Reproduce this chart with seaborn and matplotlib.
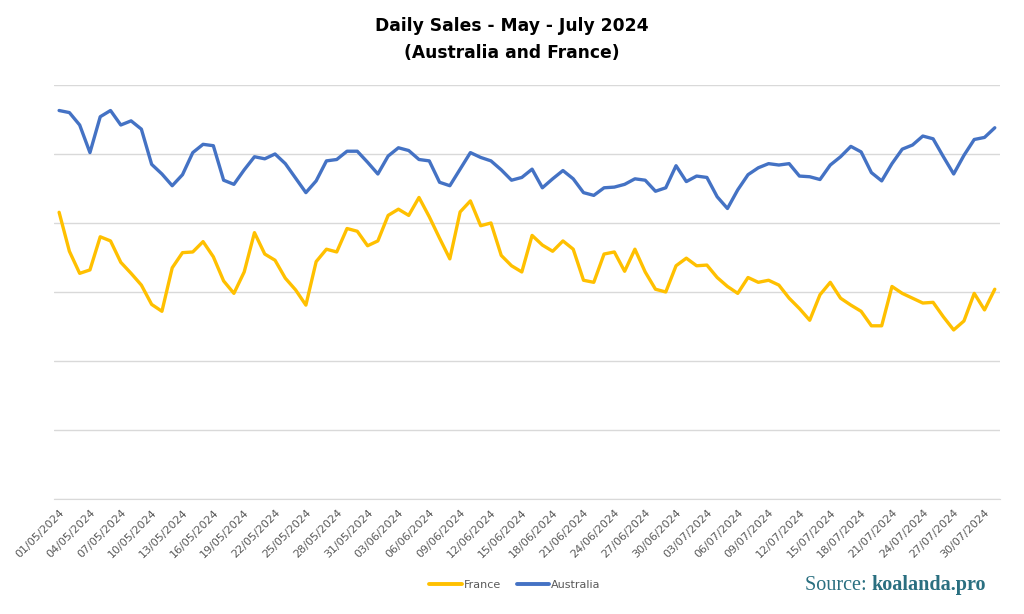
import pandas as pd
import matplotlib.pyplot as plt
import seaborn as sns

# Daily sales, 01/05/2024 - 31/07/2024
dates = pd.date_range('2024-05-01', '2024-07-31', freq='D')

australia = [
    5630, 5600, 5420, 5020, 5540, 5630, 5420, 5480, 5360, 4850,
    4710, 4540, 4700, 5020, 5140, 5120, 4620, 4560, 4770, 4960,
    4930, 5000, 4860, 4650, 4440, 4610, 4900, 4920, 5040, 5040,
    4880, 4710, 4970, 5090, 5050, 4920, 4900, 4590, 4540, 4780,
    5020, 4950, 4900, 4770, 4620, 4660, 4780, 4510, 4640, 4760,
    4640, 4440, 4400, 4510, 4520, 4560, 4640, 4620, 4460, 4510,
    4830, 4600, 4680, 4660, 4380, 4210, 4480, 4700, 4800, 4860,
    4840, 4860, 4680, 4670, 4630, 4840, 4960, 5110, 5030, 4730,
    4610, 4860, 5070, 5130, 5260, 5220, 4960, 4710, 4980, 5210,
    5240, 5380,
]

france = [
    4155, 3590, 3270, 3320, 3800, 3740, 3430, 3270, 3100, 2820,
    2720, 3350, 3570, 3580, 3730, 3510, 3160, 2980, 3290, 3860,
    3550, 3460, 3200, 3030, 2810, 3440, 3620, 3580, 3920, 3880,
    3670, 3740, 4110, 4200, 4110, 4370, 4090, 3780, 3480, 4160,
    4320, 3960, 4000, 3530, 3380, 3290, 3820, 3680, 3590, 3740,
    3620, 3170, 3140, 3550, 3580, 3300, 3620, 3290, 3040, 3000,
    3380, 3490, 3380, 3390, 3210, 3080, 2980, 3210, 3140, 3170,
    3100, 2910, 2760, 2590, 2960, 3140, 2910, 2810, 2720, 2510,
    2510, 3080, 2980, 2910, 2840, 2850, 2640, 2450, 2580, 2980,
    2740, 3040,
]

colors = {'France': '#FFC000', 'Australia': '#4472C4'}

df = pd.DataFrame({'day': range(len(dates)), 'France': france, 'Australia': australia})
long_df = df.melt(id_vars='day', var_name='Country', value_name='Sales')

sns.set_style('white')
fig = plt.figure(figsize=(10.24, 6.14), dpi=100)
ax = fig.add_axes([0.0527, 0.1873, 0.9238, 0.6743])

sns.lineplot(data=long_df, x='day', y='Sales', hue='Country', palette=colors,
             hue_order=['France', 'Australia'], linewidth=2.4, ax=ax, legend=False)

# category axis: labels on every third day, tick marks between categories
ax.set_xlim(-0.5, len(dates) - 0.5)
ax.set_ylim(0, 6000)
label_pos = list(range(0, len(dates), 3))
ax.set_xticks(label_pos)
ax.set_xticklabels([dates[i].strftime('%d/%m/%Y') for i in label_pos],
                   rotation=45, ha='right', rotation_mode='anchor',
                   fontsize=8, color='#595959')
ax.set_xticks([p - 0.5 for p in label_pos], minor=True)
ax.tick_params(axis='x', which='major', length=0, pad=6)
ax.tick_params(axis='x', which='minor', length=4, color='#D9D9D9', width=1)
ax.set_yticks(range(0, 6001, 1000))
ax.set_yticklabels([])
ax.tick_params(axis='y', length=0)
ax.yaxis.grid(True, color='#D9D9D9', linewidth=1)
ax.set_axisbelow(True)
ax.set_xlabel('')
ax.set_ylabel('')
for side in ['top', 'right', 'left']:
    ax.spines[side].set_visible(False)
ax.spines['bottom'].set_color('#D9D9D9')

fig.text(0.5, 0.958, 'Daily Sales - May - July 2024', ha='center', va='center',
         fontsize=12.3, fontweight='bold', color='black')
fig.text(0.5, 0.913, '(Australia and France)', ha='center', va='center',
         fontsize=12.3, fontweight='bold', color='black')

handles = [plt.Line2D([], [], color=colors[c], linewidth=2.8) for c in ['France', 'Australia']]
fig.legend(handles, ['France', 'Australia'], loc='center', bbox_to_anchor=(0.503, 0.047),
           ncol=2, frameon=False, fontsize=8, labelcolor='#595959',
           handlelength=2.9, handletextpad=0.2, columnspacing=1.4)

# source note: regular "Source:" followed by bold site name
src = fig.text(805 / 1024, 0.047, 'Source: ', ha='left', va='center', fontsize=14.5,
               family='Liberation Serif', color='#2A6F80')
fig.canvas.draw()
bb = src.get_window_extent(renderer=fig.canvas.get_renderer())
fig.text(bb.x1 / fig.bbox.width, 0.047, 'koalanda.pro', ha='left', va='center',
         fontsize=14.5, family='Liberation Serif', fontweight='bold', color='#2A6F80')

fig.savefig('out.png', dpi=100)
